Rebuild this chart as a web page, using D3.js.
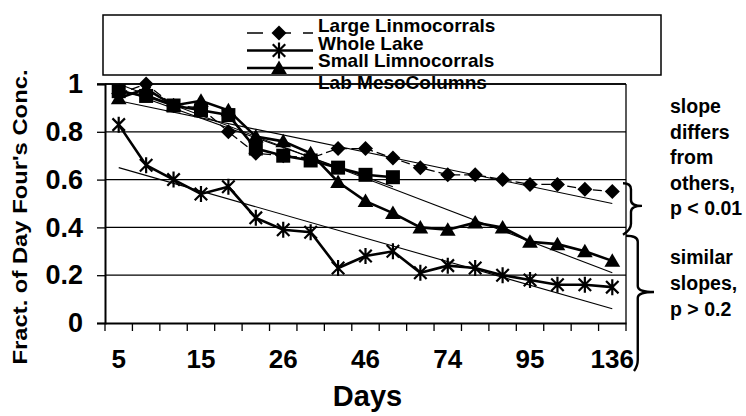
<!DOCTYPE html>
<html>
<head>
<meta charset="utf-8">
<script src="https://cdn.jsdelivr.net/npm/d3@7"></script>
<style>
  body { margin: 0; background: #fff; }
  svg { display: block; font-family: "Liberation Sans", Arial, sans-serif; font-weight: bold; }
</style>
</head>
<body>
<svg id="chart"></svg>
<script>
// x categories (sampling days), only every third one is labelled
const tickLabels = ["5", "", "", "15", "", "", "26", "", "", "46", "", "", "74", "", "", "95", "", "", "136"];
const yTicks = [0, 0.2, 0.4, 0.6, 0.8, 1];

// series values (fraction of day four concentration)
const largeLimno = [0.96, 1.00, 0.91, 0.90, 0.80, 0.71, 0.70, 0.69, 0.73, 0.73, 0.69, 0.65, 0.62, 0.62, 0.60, 0.58, 0.58, 0.56, 0.55];
const wholeLake  = [0.83, 0.66, 0.60, 0.54, 0.57, 0.44, 0.39, 0.38, 0.23, 0.28, 0.30, 0.21, 0.24, 0.23, 0.20, 0.18, 0.16, 0.16, 0.15];
const smallLimno = [0.94, 0.98, 0.91, 0.93, 0.89, 0.78, 0.76, 0.71, 0.59, 0.51, 0.46, 0.40, 0.39, 0.42, 0.40, 0.34, 0.33, 0.30, 0.26];
const labMeso    = [0.97, 0.95, 0.91, 0.89, 0.87, 0.73, 0.70, 0.68, 0.65, 0.62, 0.61];

// linear trend lines: first index, last index, value at start, value at end
const trendLarge = [0, 18, 0.93, 0.50];
const trendWhole = [0, 18, 0.65, 0.06];
const trendSmall = [0, 18, 1.00, 0.21];
const trendMeso  = [0, 10, 0.98, 0.57];

const seriesNames = ["Large Linmocorrals", "Whole Lake", "Small Limnocorrals", "Lab MesoColumns"];
const notes1 = ["slope", "differs", "from", "others,", "p < 0.01"];
const notes2 = ["similar", "slopes,", "p > 0.2"];

const W = 746, H = 416;
const margin = {top: 84, right: 120, bottom: 93, left: 105};

const svg = d3.select("#chart").attr("width", W).attr("height", H);

const x = d3.scaleBand()
            .domain(d3.range(tickLabels.length))
            .range([margin.left, W - margin.right])
            .padding(0);
const y = d3.scaleLinear()
            .domain([0, 1])
            .range([H - margin.bottom, margin.top]);
const cx = i => x(i) + x.bandwidth() / 2;

// gridlines + y axis
const yAxis = svg.append("g")
                 .attr("transform", "translate(" + margin.left + ",0)")
                 .call(d3.axisLeft(y).tickValues(yTicks).tickSize(8).tickPadding(14).tickFormat(d3.format("~g")));
yAxis.select(".domain").attr("stroke", "#000").attr("stroke-width", 2);
yAxis.selectAll(".tick line").attr("stroke", "#000").attr("stroke-width", 1.3);
yAxis.selectAll("text")
     .attr("font-size", 27)
     .attr("font-weight", "bold")
     .attr("font-family", "Liberation Sans, Arial, sans-serif")
     .attr("fill", "#000");

svg.append("g")
   .selectAll("line")
   .data(yTicks.filter(d => d > 0))
   .enter()
   .append("line")
   .attr("x1", margin.left)
   .attr("x2", W - margin.right)
   .attr("y1", d => y(d))
   .attr("y2", d => y(d))
   .attr("stroke", "#000")
   .attr("stroke-width", 1.3);

// right border
svg.append("line")
   .attr("x1", W - margin.right).attr("x2", W - margin.right)
   .attr("y1", y(1)).attr("y2", y(0))
   .attr("stroke", "#000").attr("stroke-width", 1.3);

// x axis: ticks on category boundaries, labels on centres
const xAxis = svg.append("g")
                 .attr("transform", "translate(0," + y(0) + ")")
                 .call(d3.axisBottom(x).tickSize(0).tickPadding(27).tickFormat(i => tickLabels[i]));
xAxis.select(".domain").attr("stroke", "#000").attr("stroke-width", 2);
xAxis.selectAll("text")
     .attr("font-size", 26)
     .attr("font-weight", "bold")
     .attr("font-family", "Liberation Sans, Arial, sans-serif")
     .attr("fill", "#000");

svg.append("g")
   .selectAll("line")
   .data(d3.range(tickLabels.length + 1))
   .enter()
   .append("line")
   .attr("x1", i => i < tickLabels.length ? x(i) : x.range()[1])
   .attr("x2", i => i < tickLabels.length ? x(i) : x.range()[1])
   .attr("y1", y(0))
   .attr("y2", y(0) + 8)
   .attr("stroke", "#000")
   .attr("stroke-width", 1.3);

// axis titles
svg.append("text")
   .attr("x", (margin.left + W - margin.right) / 2 + 2)
   .attr("y", 406)
   .attr("text-anchor", "middle")
   .attr("font-size", 29)
   .text("Days");

svg.append("text")
   .attr("transform", "translate(27,217) rotate(-90)")
   .attr("text-anchor", "middle")
   .attr("font-size", 21)
   .attr("textLength", 295)
   .attr("lengthAdjust", "spacingAndGlyphs")
   .text("Fract. of Day Four's Conc.");

// trend lines
const trends = [trendLarge, trendWhole, trendSmall, trendMeso];
svg.append("g")
   .selectAll("line")
   .data(trends)
   .enter()
   .append("line")
   .attr("x1", d => cx(d[0]))
   .attr("x2", d => cx(d[1]))
   .attr("y1", d => y(d[2]))
   .attr("y2", d => y(d[3]))
   .attr("stroke", "#000")
   .attr("stroke-width", 1.1);

// marker shapes
const diamondPath = s => "M0," + (-s) + "L" + s + ",0L0," + s + "L" + (-s) + ",0Z";
const squarePath = s => "M" + (-s) + "," + (-s) + "H" + s + "V" + s + "H" + (-s) + "Z";
const trianglePath = s => "M0," + (-s) + "L" + (s * 1.05) + "," + (s * 0.8) + "L" + (-s * 1.05) + "," + (s * 0.8) + "Z";
const starPath = s => {
  const d = s * 0.78;
  return "M0," + (-s) + "V" + s + "M" + (-d) + "," + (-d) + "L" + d + "," + d + "M" + (-d) + "," + d + "L" + d + "," + (-d);
};

const series = [
  {name: seriesNames[0], values: largeLimno, width: 1.3, dash: "9,4", shape: diamondPath(7.5), fill: "#000", stroke: "none"},
  {name: seriesNames[1], values: wholeLake,  width: 2.6, dash: null, shape: starPath(8), fill: "none", stroke: "#000"},
  {name: seriesNames[2], values: smallLimno, width: 2.6, dash: null, shape: trianglePath(7.5), fill: "#000", stroke: "none"},
  {name: seriesNames[3], values: labMeso,    width: 2.6, dash: null, shape: squarePath(7), fill: "#000", stroke: "none"}
];

const line = d3.line().x((d, i) => cx(i)).y(d => y(d));

series.forEach(s => {
  const g = svg.append("g");
  g.append("path")
   .datum(s.values)
   .attr("d", line)
   .attr("fill", "none")
   .attr("stroke", "#000")
   .attr("stroke-width", s.width)
   .attr("stroke-dasharray", s.dash);
  g.selectAll(".mark")
   .data(s.values)
   .enter()
   .append("path")
   .attr("class", "mark")
   .attr("transform", (d, i) => "translate(" + cx(i) + "," + y(d) + ")")
   .attr("d", s.shape)
   .attr("fill", s.fill)
   .attr("stroke", s.stroke)
   .attr("stroke-width", 2.2);
});

// LEGEND
const legend = svg.append("g");
legend.append("rect")
      .attr("x", 103).attr("y", 15)
      .attr("width", 558).attr("height", 60)
      .attr("fill", "#fff")
      .attr("stroke", "#000")
      .attr("stroke-width", 1.5);

const rowY = [32, 49.5, 67, 89];
const rows = legend.selectAll(".row")
                   .data(series)
                   .enter()
                   .append("g")
                   .attr("transform", (d, i) => "translate(0," + rowY[i] + ")");
rows.filter((d, i) => i < 3)
    .append("line")
    .attr("x1", 247).attr("x2", 313)
    .attr("y1", 1).attr("y2", 1)
    .attr("stroke", "#000")
    .attr("stroke-width", d => d.width)
    .attr("stroke-dasharray", d => d.dash ? "16,12" : null);
rows.filter((d, i) => i < 3)
    .append("path")
    .attr("transform", "translate(279,1)")
    .attr("d", d => d.shape)
    .attr("fill", d => d.fill)
    .attr("stroke", d => d.stroke)
    .attr("stroke-width", 2.2);
rows.append("text")
    .attr("x", 318)
    .attr("y", 0)
    .attr("font-size", 19)
    .text(d => d.name);

// top border of the plot runs through the last legend entry
svg.append("line")
   .attr("x1", margin.left - 8).attr("x2", W - margin.right)
   .attr("y1", y(1)).attr("y2", y(1))
   .attr("stroke", "#000").attr("stroke-width", 1.5);

// ANNOTATIONS
const bracePath = (x0, y0, y1, ym, w, endX) => {
  const xm = x0 + w * 0.42, r = Math.min(w * 0.4, 6);
  return "M" + x0 + "," + y0 +
         "Q" + xm + "," + y0 + " " + xm + "," + (y0 + r) +
         "L" + xm + "," + (ym - r) +
         "Q" + xm + "," + ym + " " + (x0 + w) + "," + ym +
         "Q" + xm + "," + ym + " " + xm + "," + (ym + r) +
         "L" + xm + "," + (y1 - r) +
         "Q" + xm + "," + y1 + " " + endX + "," + (y1 + 5);
};

svg.append("path")
   .attr("d", bracePath(623, y(0.585), y(0.39), y(0.49), 19, 623))
   .attr("fill", "none").attr("stroke", "#000").attr("stroke-width", 2.4);
svg.append("path")
   .attr("d", bracePath(626, y(0.365), y(-0.18), y(0.13), 28, 634))
   .attr("fill", "none").attr("stroke", "#000").attr("stroke-width", 2.4);

svg.append("g")
   .selectAll("text")
   .data(notes1)
   .enter()
   .append("text")
   .attr("x", 670)
   .attr("y", (d, i) => 113 + i * 25.5)
   .attr("font-size", 19.5)
   .text(d => d);

svg.append("g")
   .selectAll("text")
   .data(notes2)
   .enter()
   .append("text")
   .attr("x", 670)
   .attr("y", (d, i) => 264 + i * 26)
   .attr("font-size", 19.5)
   .text(d => d);
</script>
</body>
</html>
